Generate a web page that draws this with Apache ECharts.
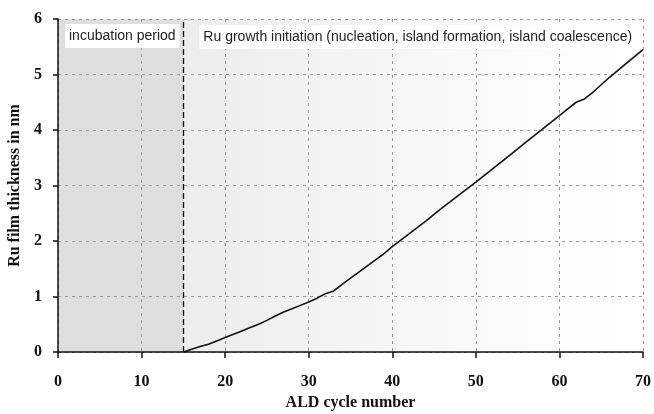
<!DOCTYPE html>
<html>
<head>
<meta charset="utf-8">
<script src="https://cdn.jsdelivr.net/npm/echarts@6/dist/echarts.min.js"></script>
<style>
  html, body { margin: 0; padding: 0; background: #fff; }
  #chart { width: 654px; height: 414px; }
</style>
</head>
<body>
<div id="chart"></div>
<script>
// ALD cycle number vs Ru film thickness (nm)
const cycles = [15, 16, 17, 18, 19, 20, 21, 22, 23, 24, 25, 26, 27, 28, 29, 30, 31, 32, 33, 33.5,
  34, 35, 36, 37, 38, 39, 40, 42, 44, 46, 48, 50, 52, 54, 56, 58, 60, 61, 62, 63, 64, 66, 68, 70]
const thickness = [0, 0.05, 0.1, 0.14, 0.2, 0.26, 0.32, 0.38, 0.44, 0.5, 0.57, 0.65, 0.72, 0.78, 0.84, 0.9, 0.97, 1.05, 1.1, 1.16,
  1.22, 1.33, 1.44, 1.55, 1.66, 1.77, 1.9, 2.13, 2.36, 2.6, 2.83, 3.06, 3.3, 3.54, 3.78, 4.02, 4.26, 4.38, 4.5, 4.56, 4.68, 4.95, 5.2, 5.45]
const incubationEnd = 15
const phaseLabels = ['incubation period', 'Ru growth initiation (nucleation, island formation, island coalescence)']

const chart = echarts.init(document.getElementById('chart'))

const serifBold = { fontFamily: 'Liberation Serif', fontWeight: 'bold', color: '#111' }
const boxLabel = {
    show: true, position: 'insideTopLeft', distance: 0,
    backgroundColor: '#fff', padding: [5, 4, 5, 4],
    fontFamily: 'Liberation Sans', fontSize: 14, color: '#222'
}

const option = {
    animation: false,
    grid: { left: 58, right: 11, top: 19, bottom: 62, outerBoundsMode: 'none' },
    xAxis: {
        type: 'value',
        min: 0,
        max: 70,
        interval: 10,
        z: 3,
        name: 'ALD cycle number',
        nameLocation: 'middle',
        nameGap: 40,
        nameTextStyle: { ...serifBold, fontSize: 16 },
        axisLine: { lineStyle: { color: '#111', width: 1.5 } },
        axisTick: { show: true, length: 6, lineStyle: { color: '#111', width: 1.5 } },
        axisLabel: { ...serifBold, fontSize: 16, margin: 22 },
        splitLine: { show: true, lineStyle: { color: '#999', type: [3, 4], width: 1 } }
    },
    yAxis: {
        type: 'value',
        min: 0,
        max: 6,
        interval: 1,
        z: 3,
        name: 'Ru film thickness in nm',
        nameLocation: 'middle',
        nameGap: 35,
        nameTextStyle: { ...serifBold, fontSize: 16 },
        axisLine: { show: true, lineStyle: { color: '#111', width: 1.5 } },
        axisTick: { show: true, length: 5, lineStyle: { color: '#111', width: 1.5 } },
        axisLabel: { ...serifBold, fontSize: 16, margin: 16 },
        splitLine: { show: true, lineStyle: { color: '#999', type: [3, 4], width: 1 } }
    },
    series: [
        {
            // background phases
            type: 'line',
            data: [],
            z: 1,
            markArea: {
                silent: true,
                z: 1,
                data: [
                    [
                        { xAxis: 0, yAxis: 6, itemStyle: { color: '#dedede' } },
                        { xAxis: incubationEnd, yAxis: 0 }
                    ],
                    [
                        {
                            xAxis: incubationEnd, yAxis: 6,
                            itemStyle: {
                                color: new echarts.graphic.LinearGradient(0, 0, 1, 0, [
                                    { offset: 0, color: '#ececec' },
                                    { offset: 0.8, color: '#fdfdfd' },
                                    { offset: 1, color: '#ffffff' }
                                ])
                            }
                        },
                        { xAxis: 70, yAxis: 0 }
                    ]
                ]
            }
        },
        {
            // phase labels, above the grid lines
            type: 'line',
            data: [],
            z: 10,
            markArea: {
                silent: true,
                z: 10,
                itemStyle: { color: 'transparent' },
                data: [
                    [
                        { xAxis: 0, yAxis: 6, label: { ...boxLabel, formatter: phaseLabels[0], offset: [7, 5] } },
                        { xAxis: incubationEnd, yAxis: 0 }
                    ],
                    [
                        { xAxis: incubationEnd, yAxis: 6, label: { ...boxLabel, formatter: phaseLabels[1], offset: [16, 6] } },
                        { xAxis: 70, yAxis: 0 }
                    ]
                ]
            }
        },
        {
            type: 'line',
            data: cycles.map((c, i) => [c, thickness[i]]),
            showSymbol: false,
            smooth: false,
            lineStyle: { color: '#111', width: 1.6 },
            z: 5,
            markLine: {
                silent: true,
                symbol: 'none',
                label: { show: false },
                lineStyle: { color: '#111', type: [6, 3], width: 1.3 },
                data: [{ xAxis: incubationEnd }]
            }
        }
    ]
}

chart.setOption(option)
</script>
</body>
</html>
